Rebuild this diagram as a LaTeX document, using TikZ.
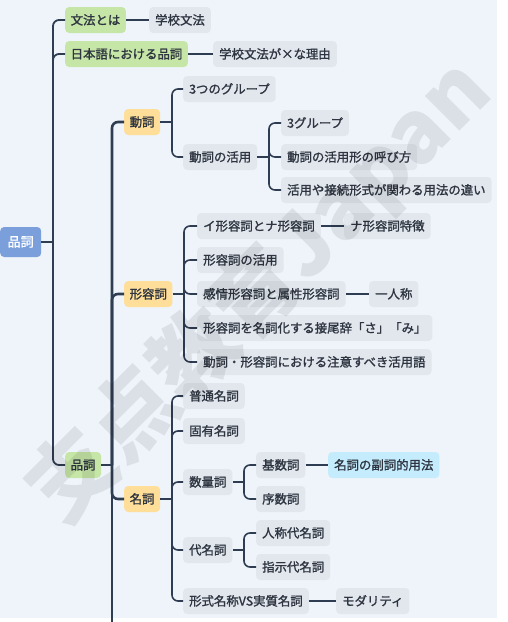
\documentclass[tikz,border=0pt]{standalone}
\usepackage{fontspec}
\setmainfont{Noto Sans CJK JP}[FakeBold=1.4]
\newfontfamily\wmfont{Noto Sans CJK JP}
\usetikzlibrary{calc}
\definecolor{bgc}{HTML}{EEF4FA}
\definecolor{boxgray}{HTML}{E2E7EE}
\definecolor{lvgrn}{HTML}{C5E6A6}
\definecolor{lvyel}{HTML}{FEDE98}
\definecolor{rootblue}{HTML}{7B9FDB}
\definecolor{cyanbox}{HTML}{C4ECFC}
\definecolor{linec}{HTML}{2F3D52}
\definecolor{txtc}{HTML}{2E3540}
\tikzset{
  box/.style={rounded corners=4pt, inner xsep=6pt, inner ysep=0pt, minimum height=26pt,
    text height=9.2pt, text depth=0pt, font=\fontsize{12.4}{14}\selectfont, text=txtc, anchor=west},
  gbox/.style={box, fill=boxgray},
  grnbox/.style={box, fill=lvgrn, inner xsep=5.5pt},
  yelbox/.style={box, fill=lvyel, inner xsep=5.5pt},
  cybox/.style={box, fill=cyanbox},
  rootbox/.style={box, fill=rootblue, text=white, inner xsep=7.5pt, minimum height=30pt,
    font=\fontsize{13}{15}\selectfont},
  lone/.style={draw=linec, line width=1.8pt, rounded corners=6pt},
  ltwo/.style={draw=linec, line width=2.6pt, rounded corners=6pt},
  lthree/.style={draw=linec, line width=1.6pt, rounded corners=6pt},
}
\begin{document}
\begin{tikzpicture}[x=1pt,y=-1pt]
\useasboundingbox (0,0) rectangle (508,622);
\fill[bgc] (0,0) rectangle (497,618);

% nodes
\node[rootbox] (root) at (0,242) {品詞};
\node[grnbox] (a1) at (65,20) {文法とは};
\node[gbox] (a1c) at (149,20) {学校文法};
\node[grnbox] (a2) at (65,54) {日本語における品詞};
\node[gbox] (a2c) at (213,54) {学校文法が×な理由};
\node[grnbox] (a3) at (65,465) {品詞};

\node[yelbox] (b1) at (124,122) {動詞};
\node[yelbox] (b2) at (124,294) {形容詞};
\node[yelbox] (b3) at (124,499) {名詞};

\node[gbox] (c1) at (183,89) {3つのグループ};
\node[gbox] (c2) at (183,157) {動詞の活用};
\node[gbox] (d1) at (281,123) {3グループ};
\node[gbox] (d2) at (281,157) {動詞の活用形の呼び方};
\node[gbox] (d3) at (281,190) {活用や接続形式が関わる用法の違い};

\node[gbox] (e1) at (197,226) {イ形容詞とナ形容詞};
\node[gbox] (e1c) at (344,226) {ナ形容詞特徴};
\node[gbox] (e2) at (197,260) {形容詞の活用};
\node[gbox] (e3) at (197,294) {感情形容詞と属性形容詞};
\node[gbox] (e3c) at (369,294) {一人称};
\node[gbox] (e4) at (197,328) {形容詞を名詞化する接尾辞「さ」「み」};
\node[gbox] (e5) at (197,362) {動詞・形容詞における注意すべき活用語};

\node[gbox] (f1) at (183,396) {普通名詞};
\node[gbox] (f2) at (183,431) {固有名詞};
\node[gbox] (f3) at (183,482) {数量詞};
\node[gbox] (f4) at (183,550) {代名詞};
\node[gbox] (f5) at (183,601) {形式名称VS実質名詞};
\node[gbox] (f5c) at (336,601) {モダリティ};

\node[gbox] (g1) at (256,465) {基数詞};
\node[cybox] (g1c) at (328,465) {名詞の副詞的用法};
\node[gbox] (g2) at (256,499) {序数詞};
\node[gbox] (h1) at (256,533) {人称代名詞};
\node[gbox] (h2) at (256,567) {指示代名詞};

% junctions
\coordinate (j0) at (53,242);
\coordinate (j1) at (112,465);
\coordinate (j2) at (172,122);
\coordinate (j3) at (269,157);
\coordinate (j4) at (184,294);
\coordinate (j5) at (172,499);
\coordinate (j6) at (244,482);
\coordinate (j7) at (244,550);
\coordinate (cut) at (112,622);

% connectors
\draw[lone] (root.east) -- (j0);
\draw[lone] (j0) |- (a1.west);
\draw[lone] (j0) |- (a2.west);
\draw[lone] (j0) |- (a3.west);
\draw[lone] (a1.east) -- (a1c.west);
\draw[lone] (a2.east) -- (a2c.west);

\draw[ltwo] (a3.east) -- (j1);
\draw[ltwo] (j1) |- (b1.west);
\draw[ltwo] (j1) |- (b2.west);
\draw[ltwo] (j1) |- (b3.west);
\draw[ltwo] (j1) -- (cut);

\draw[lthree] (b1.east) -- (j2);
\draw[lthree] (j2) |- (c1.west);
\draw[lthree] (j2) |- (c2.west);
\draw[lthree] (c2.east) -- (j3);
\draw[lthree] (j3) |- (d1.west);
\draw[lthree] (j3) |- (d2.west);
\draw[lthree] (j3) |- (d3.west);

\draw[lthree] (b2.east) -- (j4);
\draw[lthree] (j4) |- (e1.west);
\draw[lthree] (j4) |- (e2.west);
\draw[lthree] (j4) |- (e3.west);
\draw[lthree] (j4) |- (e4.west);
\draw[lthree] (j4) |- (e5.west);
\draw[lthree] (e1.east) -- (e1c.west);
\draw[lthree] (e3.east) -- (e3c.west);

\draw[lthree] (b3.east) -- (j5);
\draw[lthree] (j5) |- (f1.west);
\draw[lthree] (j5) |- (f2.west);
\draw[lthree] (j5) |- (f3.west);
\draw[lthree] (j5) |- (f4.west);
\draw[lthree] (j5) |- (f5.west);
\draw[lthree] (f5.east) -- (f5c.west);

\draw[lthree] (f3.east) -- (j6);
\draw[lthree] (j6) |- (g1.west);
\draw[lthree] (j6) |- (g2.west);
\draw[lthree] (g1.east) -- (g1c.west);
\draw[lthree] (f4.east) -- (j7);
\draw[lthree] (j7) |- (h1.west);
\draw[lthree] (j7) |- (h2.west);

% watermark
\node[rotate=45, text=black, text opacity=0.08, inner sep=0pt,
  font=\wmfont\fontsize{86}{86}\selectfont\bfseries] (wm) at (260,292) {支点教育Japan};
\end{tikzpicture}
\end{document}
